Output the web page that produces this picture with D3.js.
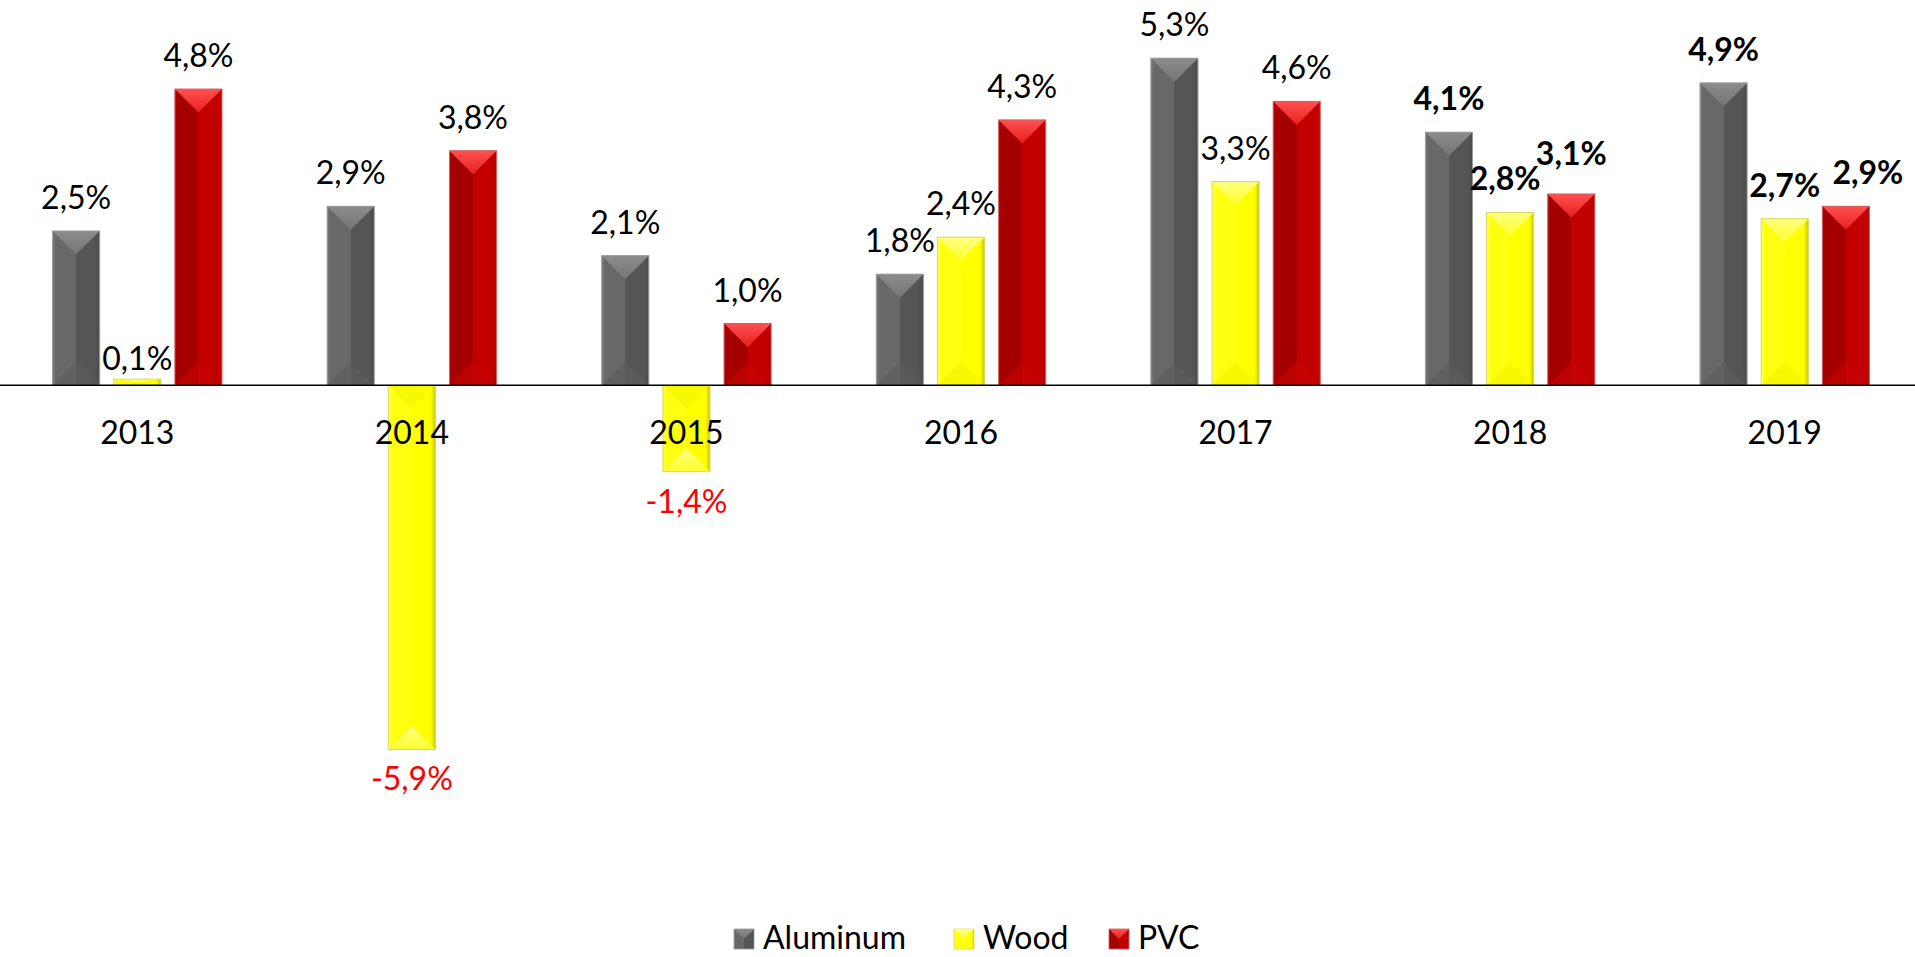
<!DOCTYPE html>
<html>
<head>
<meta charset="utf-8">
<title>Aluminum, Wood, PVC</title>
<script src="https://d3js.org/d3.v7.min.js"></script>
<style>
  body { margin: 0; background: #fff; }
  svg { display: block; }
  .lbl { font-family: Lato, "Liberation Sans", sans-serif; font-size: 32px; }
</style>
</head>
<body>
<div id="chart"></div>
<script>
// data
var years = ["2013", "2014", "2015", "2016", "2017", "2018", "2019"];
var series = ["Aluminum", "Wood", "PVC"];
var aluminum = [2.5, 2.9, 2.1, 1.8, 5.3, 4.1, 4.9];
var wood = [0.1, -5.9, -1.4, 2.4, 3.3, 2.8, 2.7];
var pvc = [4.8, 3.8, 1.0, 4.3, 4.6, 3.1, 2.9];
var boldYears = ["2018", "2019"];

var values = {Aluminum: aluminum, Wood: wood, PVC: pvc};

// look
var W = 1915, H = 957;
var shades = {
  Aluminum: {edgeL: "#7a7a7a", left: "#686868", right: "#555555", edgeR: "#4a4a4a", top1: "#8c8c8c", top2: "#757575", bot: "#5e5e5e", stroke: "#9a9a9a"},
  Wood:     {edgeL: "#ffff66", left: "#ffff10", right: "#ffff00", edgeR: "#c8c800", top1: "#ffff80", top2: "#ffff30", bot: "#f4f400", stroke: "#d8d860"},
  PVC:      {edgeL: "#b00000", left: "#a40000", right: "#c30000", edgeR: "#b80000", top1: "#ff5050", top2: "#e82020", bot: "#c80404", stroke: "#d06060"}
};
// small hand nudges for labels that Excel had moved
var nudge = {"2013-Wood": [0, 13], "2018-PVC": [0, -7], "2019-PVC": [22, 0], "2018-Wood": [-5, 0]};
var legendX = [734, 954, 1109];

var svg = d3.select("#chart").append("svg")
  .attr("width", W).attr("height", H);

var defs = svg.append("defs");
series.forEach(function(s) {
  var c = shades[s];
  var g = defs.append("linearGradient").attr("id", "body-" + s)
    .attr("x1", "0").attr("x2", "1").attr("y1", "0").attr("y2", "0");
  [[0, c.edgeL], [0.07, c.left], [0.5, c.left], [0.5, c.right], [0.9, c.right], [1, c.edgeR]]
    .forEach(function(st) { g.append("stop").attr("offset", st[0]).attr("stop-color", st[1]); });
  var t = defs.append("linearGradient").attr("id", "top-" + s)
    .attr("x1", "0").attr("x2", "0").attr("y1", "0").attr("y2", "1");
  t.append("stop").attr("offset", 0).attr("stop-color", c.top1);
  t.append("stop").attr("offset", 1).attr("stop-color", c.top2);
});

var x0 = d3.scaleBand().domain(years).range([0, 1922]);
var x1 = d3.scaleBand().domain(series).range([0, x0.bandwidth()])
  .paddingInner(0.23).paddingOuter(0.86);
var y = d3.scaleLinear().domain([-8, 6]).range([879, 15]);

var rows = [];
years.forEach(function(yr, i) {
  series.forEach(function(s) {
    rows.push({year: yr, series: s, value: values[s][i]});
  });
});

var bars = svg.append("g").selectAll("g").data(rows).enter().append("g");

function drawBar(d) {
  var g = d3.select(this);
  var c = shades[d.series];
  var bx = x0(d.year) + x1(d.series), bw = x1.bandwidth();
  var y0 = y(0), yv = y(d.value);
  var top = Math.min(y0, yv), h = Math.abs(y0 - yv);
  var dep = Math.min(bw / 2, h / 2);
  g.append("rect").attr("x", bx).attr("y", top).attr("width", bw).attr("height", h)
    .attr("fill", "url(#body-" + d.series + ")");
  // bevel triangles: the outer end and the base end
  var outerY = d.value >= 0 ? top : top + h;
  var baseY = d.value >= 0 ? top + h : top;
  var sgn = d.value >= 0 ? 1 : -1;
  g.append("polygon")
    .attr("points", [[bx, outerY], [bx + bw, outerY], [bx + bw / 2, outerY + sgn * dep]].join(" "))
    .attr("fill", "url(#top-" + d.series + ")");
  g.append("polygon")
    .attr("points", [[bx, baseY], [bx + bw, baseY], [bx + bw / 2, baseY - sgn * dep]].join(" "))
    .attr("fill", c.bot).attr("opacity", 0.6);
  g.append("rect").attr("x", bx).attr("y", top).attr("width", bw).attr("height", h)
    .attr("fill", "none").attr("stroke", c.stroke).attr("stroke-width", 1);
}
bars.each(drawBar);

// zero line
svg.append("line").attr("x1", 0).attr("x2", W).attr("y1", y(0)).attr("y2", y(0))
  .attr("stroke", "#000").attr("stroke-width", 1.5);

// category labels
svg.append("g").selectAll("text").data(years).enter().append("text")
  .attr("class", "lbl")
  .attr("x", function(d) { return x0(d) + x0.bandwidth() / 2; })
  .attr("y", 444)
  .attr("text-anchor", "middle")
  .text(function(d) { return d; });

// value labels
function fmt(v) { return v.toFixed(1).replace(".", ",") + "%"; }
svg.append("g").selectAll("text").data(rows).enter().append("text")
  .attr("class", "lbl")
  .attr("text-anchor", "middle")
  .attr("x", function(d) {
    var n = nudge[d.year + "-" + d.series] || [0, 0];
    return x0(d.year) + x1(d.series) + x1.bandwidth() / 2 + n[0];
  })
  .attr("y", function(d) {
    var n = nudge[d.year + "-" + d.series] || [0, 0];
    return (d.value >= 0 ? y(d.value) - 22 : y(d.value) + 41) + n[1];
  })
  .attr("fill", function(d) { return d.value < 0 ? "#ff0000" : "#000"; })
  .attr("font-weight", function(d) { return boldYears.indexOf(d.year) >= 0 ? "bold" : "normal"; })
  .text(function(d) { return fmt(d.value); });

// legend
var legend = svg.append("g");
series.forEach(function(s, i) {
  var c = shades[s];
  var it = legend.append("g").attr("transform", "translate(" + legendX[i] + ",929)");
  it.append("rect").attr("width", 20).attr("height", 20).attr("fill", "url(#body-" + s + ")")
    .attr("stroke", c.stroke).attr("stroke-width", 0.8);
  it.append("polygon").attr("points", "0,0 20,0 10,10").attr("fill", "url(#top-" + s + ")");
  it.append("text").attr("class", "lbl").attr("x", 29).attr("y", 20).text(s);
});
</script>
</body>
</html>
